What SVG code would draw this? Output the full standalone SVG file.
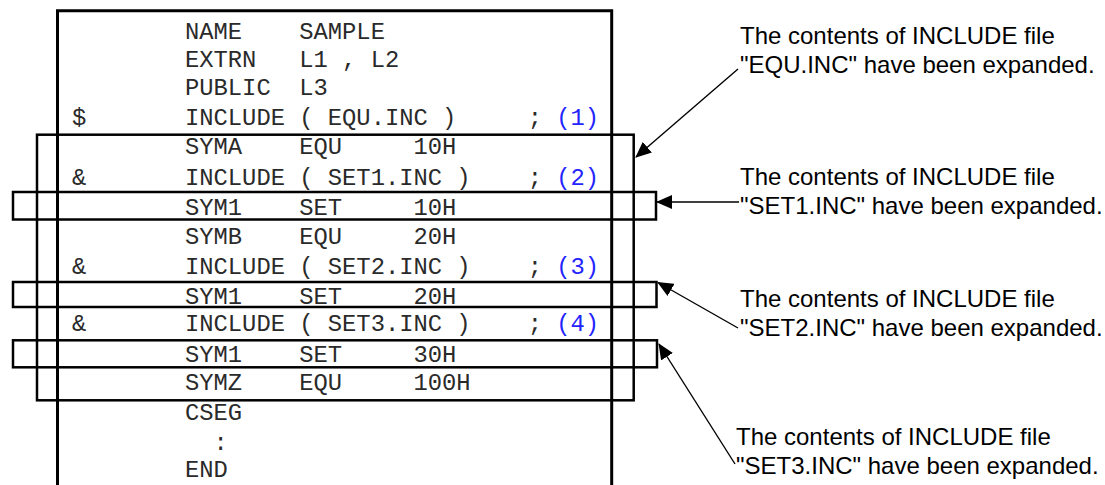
<svg xmlns="http://www.w3.org/2000/svg" width="1105" height="485" viewBox="0 0 1105 485" xml:space="preserve">
<style>
.code{font-family:"Liberation Mono","Courier New",monospace;font-size:23.8px;fill:#2a2a2a;white-space:pre}
.num{fill:#2424ff}
.lbl{font-family:"Liberation Sans",Arial,sans-serif;font-size:24px;fill:#000;white-space:pre}
.frame{fill:none;stroke:#000;stroke-width:3}
.box{fill:none;stroke:#000;stroke-width:2.5}
.conn{fill:none;stroke:#000;stroke-width:1.4}
</style>
<defs>
<marker id="ah" markerUnits="userSpaceOnUse" markerWidth="16" markerHeight="14" viewBox="0 0 16 14" refX="15" refY="7" orient="auto">
<path d="M0,0 L16,7 L0,14 Z" fill="#000"/>
</marker>
</defs>
<g id="listing">
<path class="frame" d="M57.5,486 V10.7 H611.7 V486"/>
<text class="code" x="185" y="38.5">NAME    SAMPLE</text>
<text class="code" x="185" y="66.7">EXTRN   L1 , L2</text>
<text class="code" x="185" y="95">PUBLIC  L3</text>
<text class="code" x="72" y="125">$</text>
<text class="code" x="185" y="125">INCLUDE ( EQU.INC )     ; <tspan class="num">(1)</tspan></text>
<text class="code" x="185" y="153.5">SYMA    EQU     10H</text>
<text class="code" x="72" y="185">&amp;</text>
<text class="code" x="185" y="185">INCLUDE ( SET1.INC )    ; <tspan class="num">(2)</tspan></text>
<text class="code" x="185" y="215">SYM1    SET     10H</text>
<text class="code" x="185" y="243.5">SYMB    EQU     20H</text>
<text class="code" x="72" y="273.5">&amp;</text>
<text class="code" x="185" y="273.5">INCLUDE ( SET2.INC )    ; <tspan class="num">(3)</tspan></text>
<text class="code" x="185" y="303.5">SYM1    SET     20H</text>
<text class="code" x="72" y="331">&amp;</text>
<text class="code" x="185" y="331">INCLUDE ( SET3.INC )    ; <tspan class="num">(4)</tspan></text>
<text class="code" x="185" y="361.5">SYM1    SET     30H</text>
<text class="code" x="185" y="390">SYMZ    EQU     100H</text>
<text class="code" x="185" y="420">CSEG</text>
<text class="code" x="185" y="450">  :</text>
<text class="code" x="185" y="476.5">END</text>
</g>
<g id="equ-box"><rect class="box" x="37" y="134.7" width="596.7" height="265.6"/></g>
<g id="set1-box"><rect class="box" x="13" y="192" width="643" height="27.5"/></g>
<g id="set2-box"><rect class="box" x="13" y="282" width="643.5" height="25"/></g>
<g id="set3-box"><rect class="box" x="13" y="340.3" width="644" height="27"/></g>
<g id="label-equ">
<text class="lbl" x="740" y="44">The contents of INCLUDE file</text>
<text class="lbl" x="740" y="73">"EQU.INC" have been expanded.</text>
</g>
<g id="label-set1">
<text class="lbl" x="740" y="185">The contents of INCLUDE file</text>
<text class="lbl" x="740" y="213.5">"SET1.INC" have been expanded.</text>
</g>
<g id="label-set2">
<text class="lbl" x="740" y="306.5">The contents of INCLUDE file</text>
<text class="lbl" x="740" y="335.5">"SET2.INC" have been expanded.</text>
</g>
<g id="label-set3">
<text class="lbl" x="736" y="445">The contents of INCLUDE file</text>
<text class="lbl" x="736" y="474">"SET3.INC" have been expanded.</text>
</g>
<g id="connectors">
<line class="conn" x1="738" y1="69" x2="636" y2="157" marker-end="url(#ah)"/>
<line class="conn" x1="739" y1="202" x2="657" y2="202" stroke-width="2" marker-end="url(#ah)"/>
<line class="conn" x1="738" y1="328" x2="658" y2="282.5" marker-end="url(#ah)"/>
<line class="conn" x1="735" y1="464" x2="659" y2="344" marker-end="url(#ah)"/>
</g>
</svg>
